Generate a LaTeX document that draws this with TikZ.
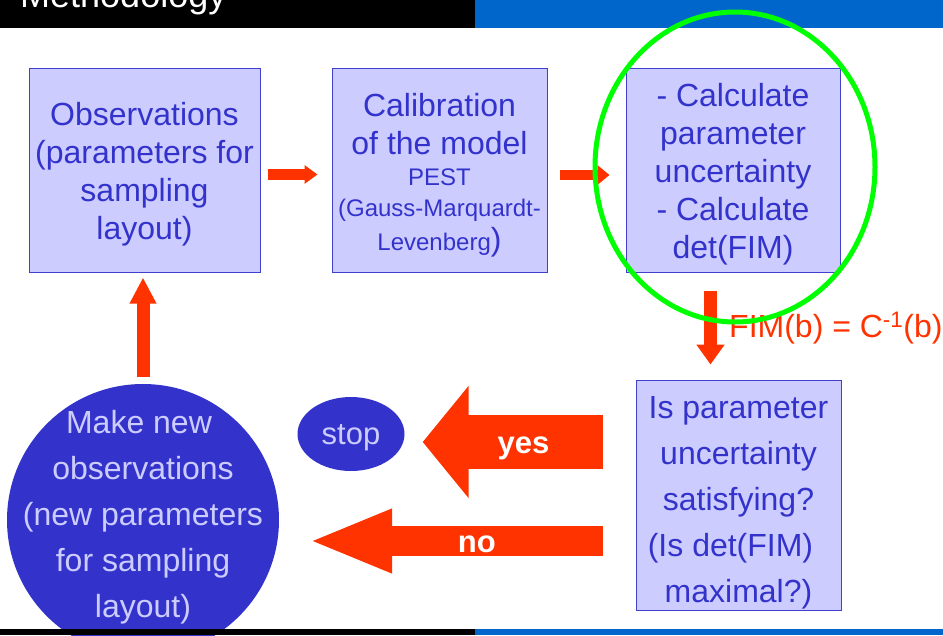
\documentclass[tikz,border=0pt]{standalone}
\usepackage{fontspec}
\setmainfont{Liberation Sans}
\usetikzlibrary{arrows.meta,shapes.geometric,positioning}
\definecolor{boxfill}{HTML}{CCCCFF}
\definecolor{boxline}{HTML}{4040CC}
\definecolor{boxtext}{HTML}{3333CC}
\definecolor{arrowred}{HTML}{FF3300}
\definecolor{ringgreen}{HTML}{00FF00}
\definecolor{barblue}{HTML}{0066CC}
\newcommand{\bigtext}{\fontsize{32}{38}\selectfont}
\newcommand{\topstrut}[1]{\rule{0pt}{#1}}
\newcommand{\padright}[1]{\rule{#1}{0pt}}
\tikzset{
  flow box/.style={rectangle, draw=boxline, line width=1pt, fill=boxfill,
    text=boxtext, align=center, inner sep=0pt, font=\bigtext},
  thin arrow/.style n args={3}{draw=arrowred, line width=#1,
    -{Triangle[length=#2,width=#3]}},
  block arrow/.style n args={3}{draw=arrowred, line width=#1,
    -{Triangle[length=#2,width=#3]}},
  arrow word/.style={text=white, inner sep=0pt, anchor=base, yshift=-11.5pt,
    font=\fontsize{31}{37}\selectfont\bfseries},
  dark oval/.style={fill=boxtext, text=boxfill, inner sep=0pt},
}

\begin{document}
\begin{tikzpicture}[x=1pt, y=-1pt]
    \useasboundingbox (0,0) rectangle (943,635);
    \clip (0,0) rectangle (943,635);
    % title bar
    \fill[black] (0,0) rectangle (475,28);
    \fill[barblue] (475,0) rectangle (943,28);
    \node[anchor=base west, text=white, inner sep=0pt,
        font=\fontsize{36}{43}\selectfont] (title) at (20,7) {Methodology};

    % boxes
    \node[flow box, minimum width=231pt, minimum height=204pt] (obs) at (144.5,170)
        {\topstrut{31pt}Observations\\(parameters for\\sampling\\layout)};
    \node[flow box, minimum width=215pt, minimum height=204pt,
        font=\fontsize{24}{31}\selectfont] (calib) at (439.5,170)
        {{\bigtext\topstrut{33pt}Calibration}\\[7pt]{\bigtext of the model}\\PEST\\
         (Gauss-Marquardt-\\[3pt]Levenberg{\bigtext)}};
    \node[flow box, minimum width=214pt, minimum height=204pt] (calc) at (733,170)
        {\topstrut{31pt}- Calculate\\parameter\\uncertainty\\- Calculate\\det(FIM)};
    \node[flow box, minimum width=205pt, minimum height=230pt,
        font=\fontsize{32}{46}\selectfont] (test) at (738.5,495)
        {\topstrut{37pt}Is parameter\\uncertainty\\satisfying?\\
         (Is det(FIM)\padright{16pt}\\maximal?)};

    % ovals
    \node[dark oval, circle, minimum size=272pt] (newobs) at (143,520) {};
    \node[text=boxfill, align=center, inner sep=0pt,
        font=\fontsize{32}{46}\selectfont] (newobstext) at ([yshift=3pt]newobs.center)
        {Make new\padright{8pt}\\observations\\(new parameters\\for sampling\\layout)};
    \node[dark oval, ellipse, minimum width=107pt, minimum height=74pt,
        text depth=0pt, font=\fontsize{31}{37}\selectfont] (stop) at (351,434) {stop};

    % small arrows
    \draw[thin arrow={11pt}{13pt}{18pt}] ([xshift=7.5pt,yshift=-4.5pt]obs.east)
        -- ([xshift=-14pt,yshift=-4.5pt]calib.west);
    \draw[thin arrow={10pt}{12pt}{19pt}] ([xshift=12pt,yshift=-5pt]calib.east)
        -- ([xshift=-16pt,yshift=-5pt]calc.west);
    \draw[thin arrow={13pt}{20pt}{27pt}] ([xshift=-22.5pt,yshift=-18pt]calc.south)
        -- ([xshift=-28pt,yshift=15pt]test.north);
    \node[anchor=base west, text=arrowred, inner sep=0pt, font=\bigtext] (fim)
        at (729,337) {FIM(b) = C\textsuperscript{-1}(b)};
    \coordinate (uptip) at ([yshift=-5pt]obs.south);
    \draw[thin arrow={13pt}{26pt}{25pt}] ([yshift=7pt]newobs.north)
        -- (newobs.north |- uptip);

    % yes / no
    \coordinate (yestail) at ([xshift=-33pt,yshift=53pt]test.west);
    \coordinate (yestip) at ([xshift=18pt]stop.east);
    \draw[block arrow={54pt}{46pt}{110pt}] (yestail)
        -- node[arrow word, pos=0.44] (yes) {yes} (yestip |- yestail);
    \coordinate (notail) at ([xshift=-33pt,yshift=-46pt]test.west);
    \coordinate (notip) at ([xshift=29pt]newobs.east);
    \draw[block arrow={30pt}{84pt}{58pt}] (notail)
        -- node[arrow word, pos=0.427] (no) {no} (notip |- notail);

    % green ring
    \draw[ringgreen, line width=5pt] ([xshift=2pt,yshift=3pt]calc.center)
        ellipse [x radius=140, y radius=155];

    % bottom bar
    \fill[black] (0,629) rectangle (475,635);
    \fill[barblue] (475,629) rectangle (943,635);
\end{tikzpicture}
\end{document}
